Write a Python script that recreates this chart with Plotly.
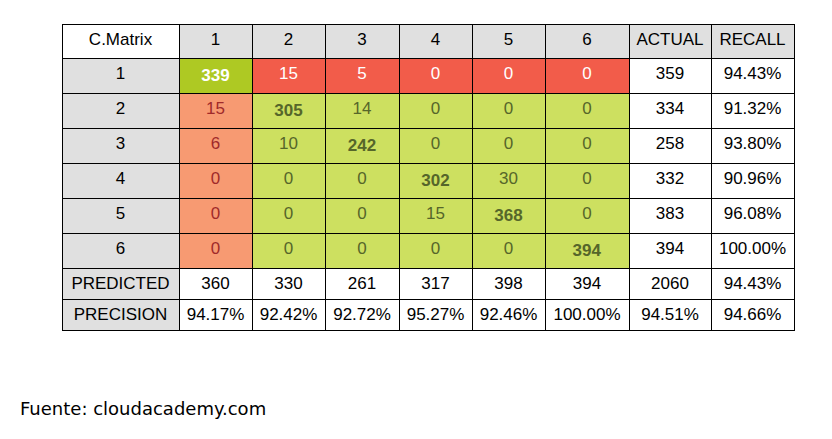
import plotly.graph_objects as go

labels = ["1", "2", "3", "4", "5", "6"]
matrix = [
    [339, 15, 5, 0, 0, 0],
    [15, 305, 14, 0, 0, 0],
    [6, 10, 242, 0, 0, 0],
    [0, 0, 0, 302, 30, 0],
    [0, 0, 0, 15, 368, 0],
    [0, 0, 0, 0, 0, 394],
]
actual = [359, 334, 258, 332, 383, 394]
recall = ["94.43%", "91.32%", "93.80%", "90.96%", "96.08%", "100.00%"]
predicted = [360, 330, 261, 317, 398, 394, 2060, "94.43%"]
precision = ["94.17%", "92.42%", "92.72%", "95.27%", "92.46%", "100.00%", "94.51%", "94.66%"]

GRAY = "#e0e0e0"
n = len(labels)

# build columns
cols, fills, fcols = [], [], []
cols.append(labels + ["PREDICTED", "PRECISION"])
fills.append([GRAY] * (n + 2))
fcols.append(["black"] * (n + 2))
for j in range(n):
    vals, fc, tc = [], [], []
    for i in range(n):
        v = matrix[i][j]
        if i == j:
            vals.append(f"<b>{v}</b>")
        else:
            vals.append(str(v))
        if i == 0 and j == 0:
            fc.append("#aec923"); tc.append("white")
        elif i == 0:
            fc.append("#f25c4a"); tc.append("white")
        elif j == 0:
            fc.append("#f79a72"); tc.append("#a02a2a")
        else:
            fc.append("#cde060"); tc.append("#56662a")
    vals += [str(predicted[j]), precision[j]]
    fc += ["white", "white"]
    tc += ["black", "black"]
    cols.append(vals); fills.append(fc); fcols.append(tc)
cols.append([str(a) for a in actual] + [str(predicted[n]), precision[n]])
cols.append(recall + [predicted[n + 1], precision[n + 1]])
for _ in range(2):
    fills.append(["white"] * (n + 2)); fcols.append(["black"] * (n + 2))

header = ["C.Matrix"] + labels + ["ACTUAL", "RECALL"]
fig = go.Figure(go.Table(
    domain=dict(x=[54 / 832, 786 / 832], y=[0, 1 - 16 / 439]),
    columnwidth=[117, 73, 73, 74, 73, 73, 84, 82, 83],
    header=dict(values=header, height=34, align="center",
                fill_color=["white"] + [GRAY] * 8,
                line=dict(color="black", width=1),
                font=dict(family="Liberation Sans, Arial", size=17, color="black")),
    cells=dict(values=cols, height=31.3, align="center",
               fill_color=fills, line=dict(color="black", width=1),
               font=dict(family="Liberation Sans, Arial", size=17, color=fcols)),
))
fig.add_annotation(text="Fuente: cloudacademy.com", x=10 / 832, y=1 - 400 / 439,
                   xref="paper", yref="paper", xanchor="left", yanchor="middle",
                   showarrow=False, font=dict(family="DejaVu Sans", size=18, color="black"))
fig.update_layout(width=832, height=439, margin=dict(l=0, r=0, t=0, b=0),
                  paper_bgcolor="white")
fig.write_html("out.html")
